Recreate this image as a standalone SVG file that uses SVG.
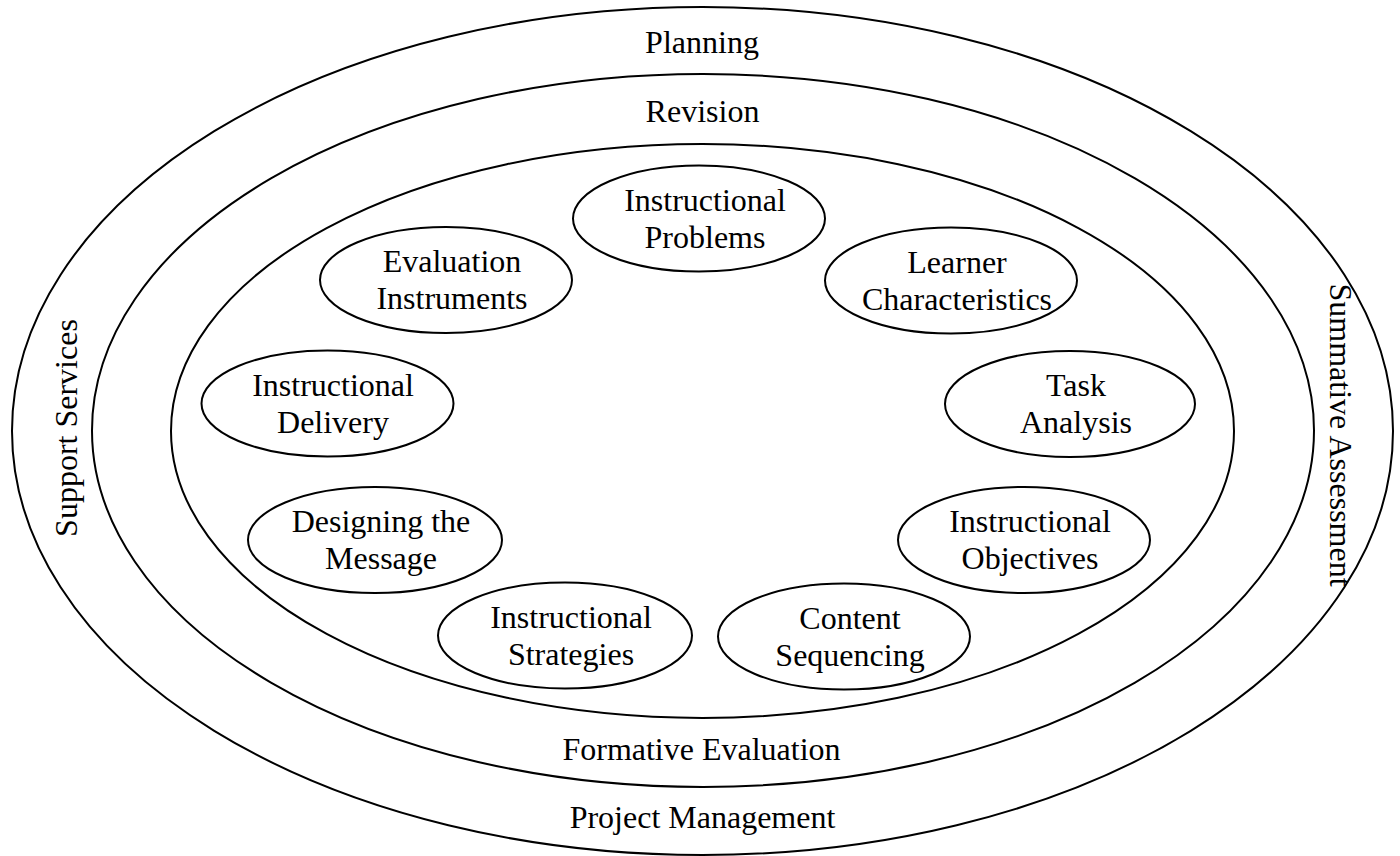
<svg xmlns="http://www.w3.org/2000/svg" width="1400" height="856" viewBox="0 0 1400 856">
<style>
.ring{fill:none;stroke:#000;stroke-width:2}
.node ellipse{fill:#fff;stroke:#000;stroke-width:2}
text{font-family:"Liberation Serif","Times New Roman",serif;font-size:32px;fill:#000;text-anchor:middle}
</style>
<rect width="1400" height="856" fill="#fff"/>
<g id="rings">
<ellipse class="ring" cx="702.5" cy="431" rx="690.5" ry="424"/>
<ellipse class="ring" cx="703" cy="430.5" rx="611" ry="356.5"/>
<ellipse class="ring" cx="702.5" cy="431" rx="531.5" ry="287"/>
</g>
<g id="ring-labels">
<text x="702" y="53">Planning</text>
<text x="702.5" y="122">Revision</text>
<text x="701.5" y="760">Formative Evaluation</text>
<text x="702.5" y="828">Project Management</text>
<text transform="translate(77,428) rotate(-90)">Support Services</text>
<text transform="translate(1330,435) rotate(90)">Summative Assessment</text>
</g>
<g id="connectors"></g>
<g id="n-problems" class="node"><ellipse cx="699" cy="218.5" rx="126" ry="53"/><text x="705" y="211">Instructional</text><text x="705" y="248">Problems</text></g>
<g id="n-learner" class="node"><ellipse cx="951" cy="280.5" rx="126" ry="53"/><text x="957" y="273">Learner</text><text x="957" y="310">Characteristics</text></g>
<g id="n-task" class="node"><ellipse cx="1070" cy="404" rx="125" ry="53"/><text x="1076" y="396">Task</text><text x="1076" y="433">Analysis</text></g>
<g id="n-objectives" class="node"><ellipse cx="1024" cy="540" rx="126" ry="53"/><text x="1030" y="532">Instructional</text><text x="1030" y="569">Objectives</text></g>
<g id="n-sequencing" class="node"><ellipse cx="844" cy="636.5" rx="126" ry="53"/><text x="850" y="629">Content</text><text x="850" y="666">Sequencing</text></g>
<g id="n-strategies" class="node"><ellipse cx="565" cy="635.5" rx="127" ry="53"/><text x="571" y="628">Instructional</text><text x="571" y="665">Strategies</text></g>
<g id="n-message" class="node"><ellipse cx="375" cy="540" rx="127" ry="53"/><text x="381" y="532">Designing the</text><text x="381" y="569">Message</text></g>
<g id="n-delivery" class="node"><ellipse cx="327.5" cy="403.5" rx="126" ry="53"/><text x="333" y="396">Instructional</text><text x="333" y="433">Delivery</text></g>
<g id="n-evaluation" class="node"><ellipse cx="446" cy="280" rx="126" ry="53"/><text x="452" y="272">Evaluation</text><text x="452" y="309">Instruments</text></g>
</svg>
